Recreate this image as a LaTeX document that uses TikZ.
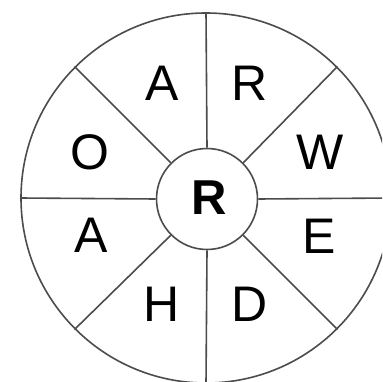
\documentclass[tikz,border=0pt]{standalone}
\usepackage{fontspec}
\setmainfont{Liberation Sans}
\begin{document}
\begin{tikzpicture}[x=1pt,y=-1pt,
  ring/.style={draw=black!70,line width=1.6pt,circle,inner sep=0pt},
  spoke/.style={draw=black!70,line width=1.6pt},
  letter/.style={font=\fontsize{50}{50}\selectfont,inner sep=0pt,text=black}]
\useasboundingbox (0,0) rectangle (382,382);
\clip (0,0) rectangle (382,382);
\fill[white] (0,0) rectangle (382,382);
\node[ring,minimum size=370pt] (o) at (206,198) {};
\node[ring,minimum size=101pt] (c) at (207,199) {};
\node[letter,font=\fontsize{49}{49}\selectfont\bfseries] (cr) at (209,198) {R};
\foreach \a in {0,45,90,135,180,225,270,315}
  \draw[spoke] (c.\a) -- (o.\a);
\node[letter] (l1) at (162,83) {A};
\node[letter] (l2) at (250,83) {R};
\node[letter] (l3) at (320,152) {W};
\node[letter] (l4) at (319,236) {E};
\node[letter] (l5) at (250,304) {D};
\node[letter] (l6) at (162,304) {H};
\node[letter] (l7) at (91,235) {A};
\node[letter] (l8) at (90,152) {O};
\end{tikzpicture}
\end{document}
